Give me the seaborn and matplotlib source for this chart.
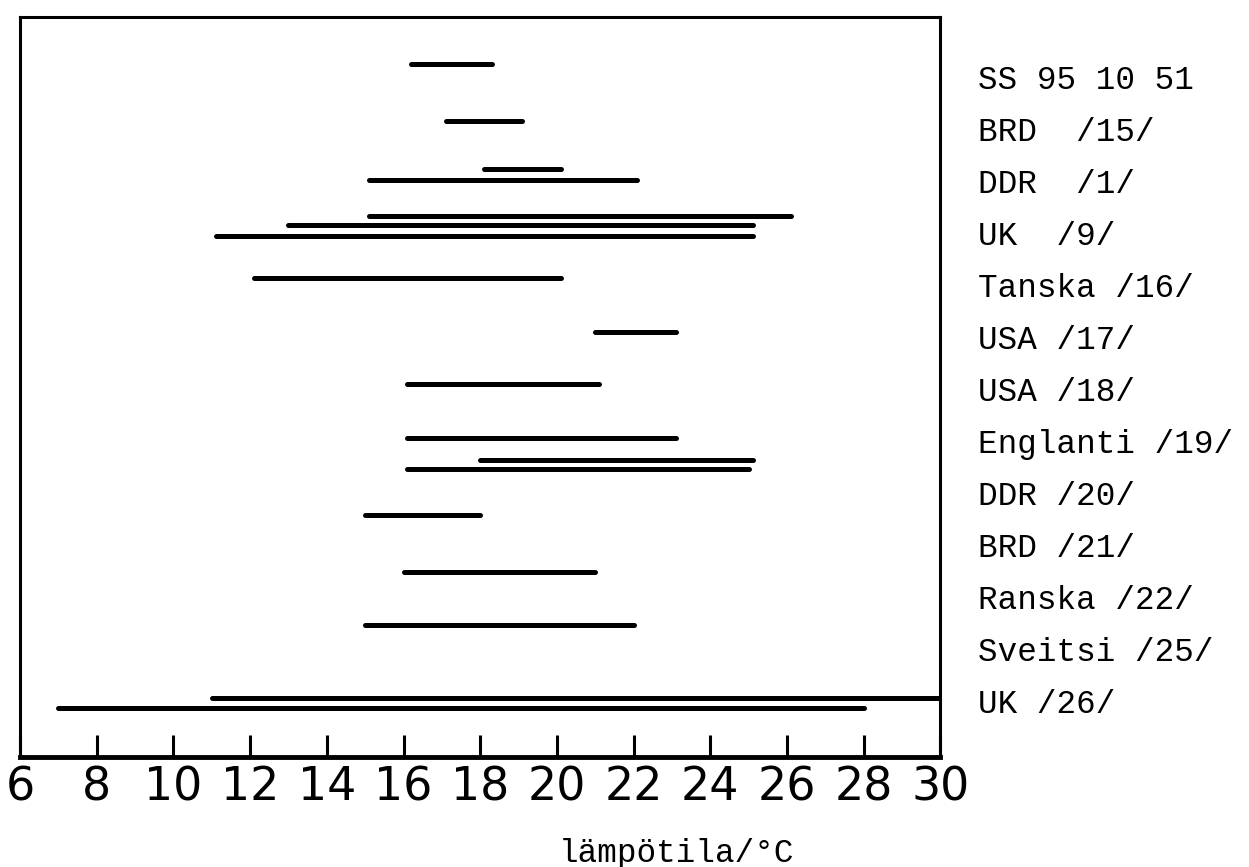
import numpy as np
import pandas as pd
import matplotlib
matplotlib.use("Agg")
import matplotlib.pyplot as plt
import seaborn as sns
from matplotlib import font_manager

# labels on the right, one per row (row 0 at the top)
row_labels = ["SS 95 10 51", "BRD  /15/", "DDR  /1/", "UK  /9/", "Tanska /16/",
              "USA /17/", "USA /18/", "Englanti /19/", "DDR /20/", "BRD /21/",
              "Ranska /22/", "Sveitsi /25/", "UK /26/"]

# temperature ranges (degC), one bar each, with the row it sits at
bar_row   = [-0.25, 0.85, 1.77, 1.98, 2.67, 2.85, 3.06, 3.87, 4.90, 5.90, 6.94,
             7.37, 7.54, 8.42, 9.52, 10.54, 11.94, 12.13]
bar_start = [16.2, 17.1, 18.1, 15.1, 15.1, 13.0, 11.1, 12.1, 21.0, 16.1, 16.1,
             18.0, 16.1, 15.0, 16.0, 15.0, 11.0, 7.0]
bar_end   = [18.3, 19.1, 20.1, 22.1, 26.1, 25.1, 25.1, 20.1, 23.1, 21.1, 23.1,
             25.1, 25.0, 18.0, 21.0, 22.0, 30.0, 28.0]

xticks = list(range(6, 31, 2))

def longForm():
	recs = []
	for i in range(len(bar_row)):
		recs.append({"bar": i, "temp": bar_start[i], "row": bar_row[i]})
		recs.append({"bar": i, "temp": bar_end[i], "row": bar_row[i]})
	return pd.DataFrame(recs)

sns.set_style("white")
df = longForm()

# narrow font for the axis digits if there is one
names = set(f.name for f in font_manager.fontManager.ttflist)
digitFont = "Liberation Sans Narrow" if "Liberation Sans Narrow" in names else "DejaVu Sans"
print(digitFont)

fig = plt.figure(figsize=(12.49, 8.67), dpi=100)
ax = fig.add_axes([0.016, 0.127, 0.737, 0.853])

sns.lineplot(data=df, x="temp", y="row", units="bar", estimator=None, sort=False,
             color="black", lw=3.6, solid_capstyle="round", ax=ax)

ax.set_xlim(6, 30)
ax.set_ylim(13.08, -1.15)

for s in ax.spines.values():
	s.set_color("black")
	s.set_linewidth(2.2)
ax.spines["bottom"].set_linewidth(3.5)

# x axis: big digits, ticks pointing inwards
ax.set_xticks(xticks)
ax.set_xticklabels([str(t) for t in xticks], fontsize=33, family=digitFont)
ax.tick_params(axis="x", bottom=True, direction="in", length=16, width=2.2, pad=6,
               colors="black")

# row labels on the right side
ax.yaxis.tick_right()
ax.set_yticks(range(len(row_labels)))
ax.set_yticklabels(row_labels, fontsize=23.5, family="Liberation Mono")
ax.tick_params(axis="y", left=False, right=False, length=0, pad=27, colors="black")

ax.set_xlabel("lämpötila/°C", fontsize=23.5, family="Liberation Mono", color="black")
ax.set_ylabel("")
ax.xaxis.set_label_coords(0.713, -0.109)

fig.savefig("out.png", dpi=100)
